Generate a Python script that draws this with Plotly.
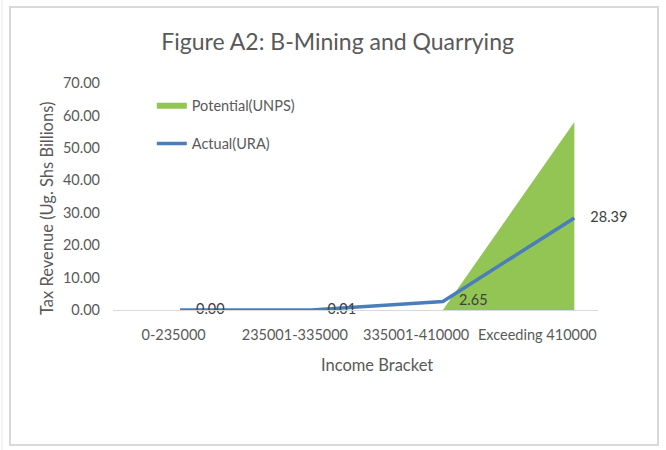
import plotly.graph_objects as go

brackets = ["0-235000", "235001-335000", "335001-410000", "Exceeding 410000"]
potential = [0, 0, 0, 58.0]
actual = [0.00, 0.01, 2.65, 28.39]
y_ticks = [0, 10, 20, 30, 40, 50, 60, 70]

font_name = "Lato, Open Sans, sans-serif"
grey = "#595959"

# positions of the brackets along the axis
xs = list(range(len(brackets)))
x_range = [-0.51, 3.18]
# tick labels sit in the middle of each category slot of the axis
slot = (x_range[1] - x_range[0]) / len(brackets)
label_pos = [x_range[0] + (i + 0.5) * slot for i in xs]

fig = go.Figure()

fig.add_trace(go.Scatter(
    x=xs, y=potential,
    mode="none", fill="tozeroy", fillcolor="#92C553",
    name="Potential(UNPS)", legendgroup="a",
))

fig.add_trace(go.Scatter(
    x=xs, y=actual,
    mode="lines+markers+text",
    line=dict(color="#4A7EBB", width=3.5),
    marker=dict(size=24, color="rgba(0,0,0,0)"),
    text=["%.2f" % v for v in actual],
    textposition="middle right",
    textfont=dict(size=14.5, color="#404040", family=font_name),
    cliponaxis=False,
    name="Actual(URA)", legendgroup="b",
))

fig.update_layout(
    width=666, height=450,
    margin=dict(l=113, r=68, t=83, b=140),
    paper_bgcolor="white", plot_bgcolor="white",
    font=dict(family=font_name, color=grey),
    title=dict(text="Figure A2: B-Mining and Quarrying", x=0.507, xanchor="center",
               y=0.907, yanchor="middle", font=dict(size=23, color=grey)),
    showlegend=True,
    legend=dict(x=0.08, y=0.97, xanchor="left", yanchor="top",
                bgcolor="rgba(0,0,0,0)", font=dict(size=14.5, color=grey),
                traceorder="grouped", tracegroupgap=16),
    xaxis=dict(range=x_range, tickvals=label_pos, ticktext=brackets,
               showgrid=False, showline=True,
               linecolor="#D9D9D9", linewidth=1, zeroline=False,
               tickfont=dict(size=14.5, color=grey), ticklabelstandoff=12),
    yaxis=dict(range=[0, 70], tickvals=y_ticks, tickformat=".2f",
               showgrid=False, zeroline=False, showline=False,
               tickfont=dict(size=14.5, color=grey), ticklabelstandoff=12),
    annotations=[
        dict(text="Income Bracket", xref="paper", yref="paper",
             x=264 / 485, y=-55 / 227, xanchor="center", yanchor="middle",
             showarrow=False, font=dict(size=16.5, color=grey)),
        dict(text="Tax Revenue (Ug. Shs Billions)", xref="paper", yref="paper",
             x=-66 / 485, y=101 / 227, xanchor="center", yanchor="middle",
             textangle=-90, showarrow=False, font=dict(size=16.5, color=grey)),
    ],
    shapes=[
        dict(type="rect", xref="paper", yref="paper", layer="below",
             x0=-103 / 485, x1=545 / 485, y0=-135 / 227, y1=303 / 227,
             line=dict(color="#D9D9D9", width=2)),
        dict(type="line", xref="paper", yref="paper",
             x0=-111 / 485, x1=-111 / 485, y0=-140 / 227, y1=310 / 227,
             line=dict(color="#E6E6E6", width=1)),
    ],
)

fig.write_html("out.html", config={"displayModeBar": False},
               post_script="document.body.style.margin='0';")
